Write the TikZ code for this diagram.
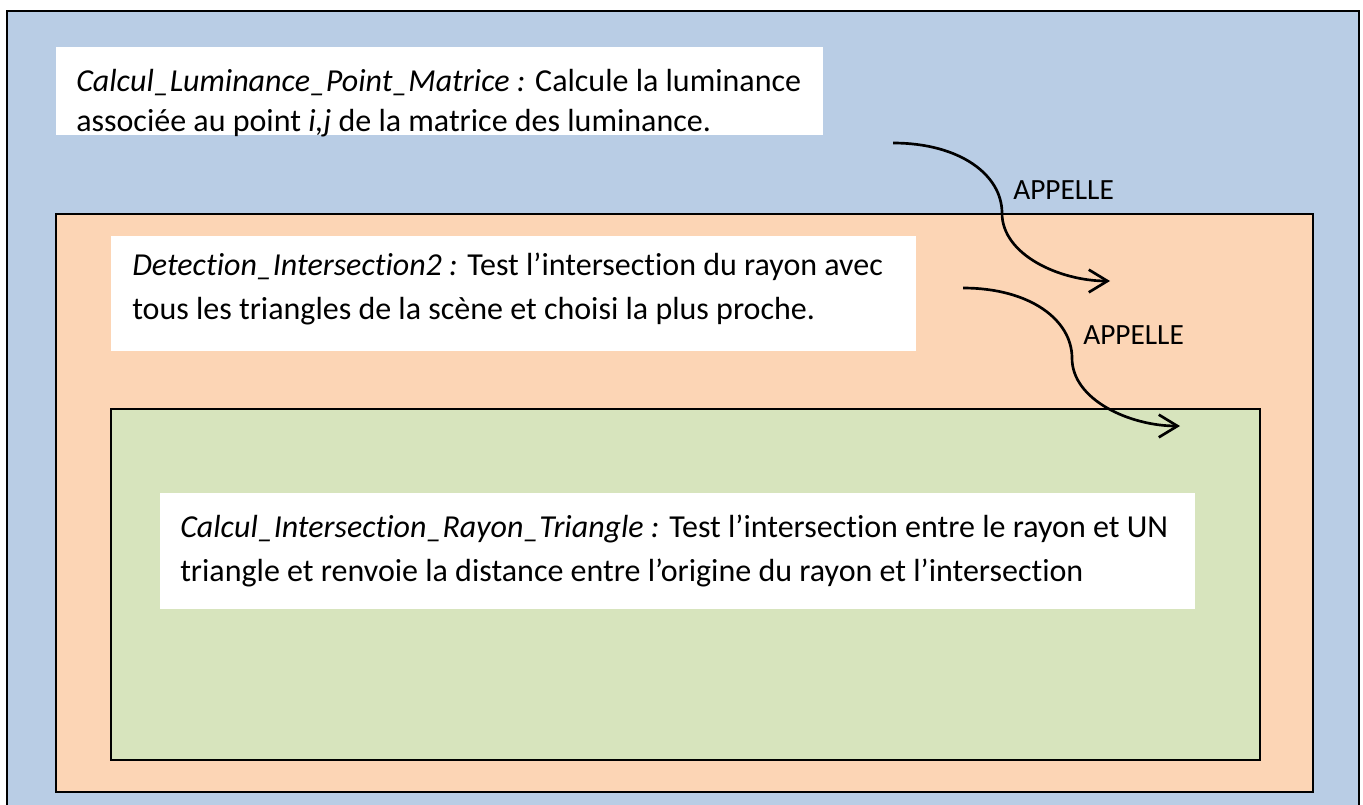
\documentclass[tikz,border=0pt]{standalone}
\usepackage{fontspec}
\setmainfont{Carlito}[Ligatures={NoCommon}]
\usetikzlibrary{arrows.meta}
\definecolor{bluebg}{HTML}{B9CDE5}
\definecolor{orangebg}{HTML}{FCD5B5}
\definecolor{greenbg}{HTML}{D7E4BD}
\begin{document}
\begin{tikzpicture}[x=0.75pt,y=-0.75pt,
  frame/.style={draw=black, line width=0.9pt},
  whitebox/.style={fill=white},
  txt/.style={anchor=base west, inner sep=0pt, align=left, font=\fontsize{24}{33}\selectfont},
  txtb/.style={txt, font=\fontsize{24}{30}\selectfont},
  lbl/.style={anchor=base west, inner sep=0pt, font=\fontsize{22}{26}\selectfont},
  call/.style={-{Straight Barb[length=14pt,width=17pt]}, line width=2pt}]
\useasboundingbox (0,0) rectangle (1363,804);
\clip (0,0) rectangle (1363,804);
% outer blue frame
\draw[frame, fill=bluebg] (7,11) rectangle (1359,840);
\fill[whitebox] (56,47) rectangle (823,135);
% orange frame
\draw[frame, fill=orangebg] (56,214) rectangle (1313,792);
\fill[whitebox] (111,236) rectangle (916,351);
% green frame
\draw[frame, fill=greenbg] (111,409) rectangle (1260,760);
\fill[whitebox] (160,493) rectangle (1195,609);
% texts (base anchor = baseline of last line)
\node[txtb] (t1) at (76,131) {\textit{Calcul\_Luminance\_Point\_Matrice :} Calcule la luminance\\associée au point \textit{i,j} de la matrice des luminance.};
\node[txt] (t2) at (132,319) {\textit{Detection\_Intersection2 :} Test l’intersection du rayon avec\\tous les triangles de la scène et choisi la plus proche.};
\node[txt] (t3) at (180,581) {\textit{Calcul\_Intersection\_Rayon\_Triangle :} Test l’intersection entre le rayon et UN\\triangle et renvoie la distance entre l’origine du rayon et l’intersection};
% connectors
\coordinate (a1s) at (893,143);
\coordinate (a1m) at (1002,213);
\coordinate (a1e) at (1110,281);
\coordinate (a2s) at (963,288);
\coordinate (a2m) at (1072,358);
\coordinate (a2e) at (1180,426);
\draw[call] (a1s) .. controls (960,143) and (1002,175) .. (a1m) .. controls (1002,255) and (1060,281) .. (a1e);
\draw[call] (a2s) .. controls (1030,288) and (1072,320) .. (a2m) .. controls (1072,400) and (1130,426) .. (a2e);
\node[lbl] (l1) at (1013,199) {APPELLE};
\node[lbl] (l2) at (1083,344) {APPELLE};
\end{tikzpicture}
\end{document}
